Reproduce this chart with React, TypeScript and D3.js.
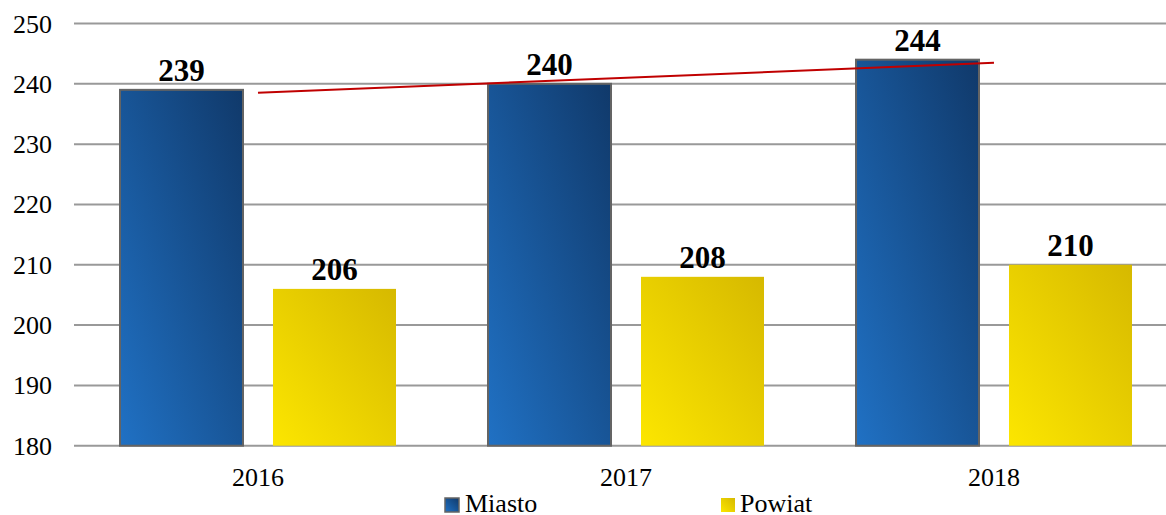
import React from "react";
import * as d3 from "d3";

const categories = ["2016", "2017", "2018"];
const seriesNames = ["Miasto", "Powiat"];
const miasto = [239, 240, 244];
const powiat = [206, 208, 210];
const yTicks = [180, 190, 200, 210, 220, 230, 240, 250];

const W = 1166;
const H = 515;

export default function App() {
  const x = d3.scaleBand<string>().domain(categories).range([74, 1178]).paddingInner(0).paddingOuter(0);
  const y = d3.scaleLinear().domain([180, 250]).range([445.7, 23.5]);
  const bw = 123;
  const gap = 30;
  const groupW = bw * 2 + gap;
  const off = (x.bandwidth() - groupW) / 2;

  const xs = miasto.map((_, i) => i + 1);
  const mx = d3.mean(xs)!;
  const my = d3.mean(miasto)!;
  const slope = d3.sum(xs.map((xi, i) => (xi - mx) * (miasto[i] - my))) / d3.sum(xs.map((xi) => (xi - mx) ** 2));
  const icpt = my - slope * mx;
  const trendPts: [number, number][] = categories.map((c, i) => [x(c)! + x.bandwidth() / 2, y(icpt + slope * (i + 1))]);
  const line = d3.line();

  const font = "Liberation Serif, Times New Roman, DejaVu Serif, serif";
  const ts = { fontFamily: font };

  return (
    <svg width={W} height={H} style={{ position: "absolute", left: 0, top: 0, display: "block", fontFamily: font }}>
      <defs>
        <linearGradient id="gBlue" x1="0" y1="1" x2="1" y2="0">
          <stop offset="0" stopColor="#2071c4" />
          <stop offset="1" stopColor="#10396a" />
        </linearGradient>
        <linearGradient id="gYellow" x1="0" y1="1" x2="1" y2="0">
          <stop offset="0" stopColor="#fce600" />
          <stop offset="1" stopColor="#d6b900" />
        </linearGradient>
      </defs>
      <rect x={0} y={0} width={W} height={H} fill="#fff" />
      {yTicks.map((t) => (
        <g key={t}>
          <line x1={74} x2={1178} y1={y(t)} y2={y(t)} stroke="#999" strokeWidth={2} />
          <text x={52} y={y(t) + 9} textAnchor="end" fontSize={26} fill="#000" style={ts}>
            {t}
          </text>
        </g>
      ))}
      {categories.map((c, i) => {
        const x0 = x(c)! + off;
        const x1 = x0 + bw + gap;
        return (
          <g key={c}>
            <rect x={x0} y={y(miasto[i])} width={bw} height={y(180) - y(miasto[i])} fill="url(#gBlue)" stroke="#646464" strokeWidth={2} />
            <rect x={x1} y={y(powiat[i])} width={bw} height={y(180) - y(powiat[i])} fill="url(#gYellow)" />
            <text x={x0 + bw / 2} y={y(miasto[i]) - 9} textAnchor="middle" fontSize={31} fontWeight="bold" style={ts}>
              {miasto[i]}
            </text>
            <text x={x1 + bw / 2} y={y(powiat[i]) - 9} textAnchor="middle" fontSize={31} fontWeight="bold" style={ts}>
              {powiat[i]}
            </text>
            <text x={x(c)! + x.bandwidth() / 2} y={486} textAnchor="middle" fontSize={26} style={ts}>
              {c}
            </text>
          </g>
        );
      })}
      <path d={line([trendPts[0], trendPts[trendPts.length - 1]])!} stroke="#c00000" strokeWidth={2} fill="none" />
      <g>
        <rect x={445} y={498} width={14} height={14} fill="url(#gBlue)" stroke="#646464" strokeWidth={1.5} />
        <text x={465} y={512} fontSize={26} style={ts}>{seriesNames[0]}</text>
        <rect x={721} y={498} width={14} height={14} fill="url(#gYellow)" />
        <text x={740} y={512} fontSize={26} style={ts}>{seriesNames[1]}</text>
      </g>
    </svg>
  );
}
